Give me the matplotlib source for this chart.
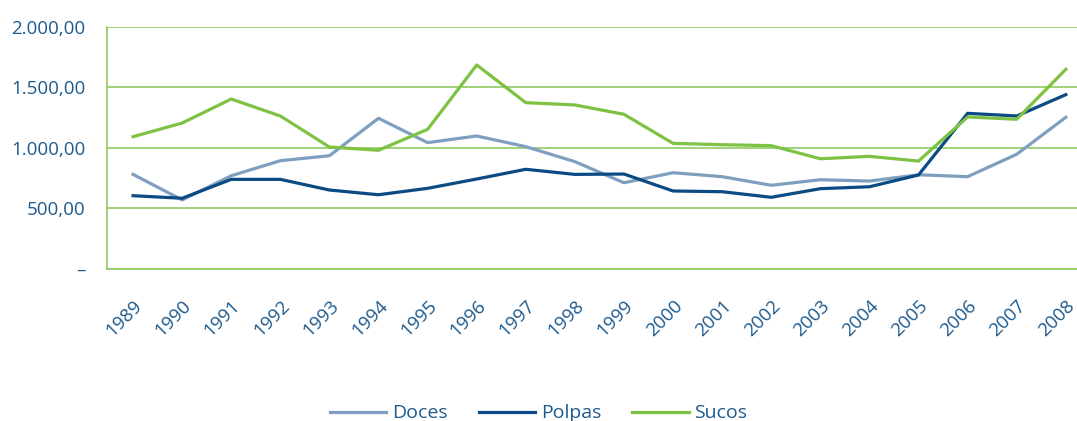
import matplotlib.pyplot as plt
from matplotlib.ticker import FixedLocator

plt.rcParams['font.family'] = ['Open Sans', 'DejaVu Sans']

anos = ['1989', '1990', '1991', '1992', '1993', '1994', '1995', '1996', '1997', '1998',
        '1999', '2000', '2001', '2002', '2003', '2004', '2005', '2006', '2007', '2008']
doces = [781, 570, 770, 894, 935, 1244, 1043, 1098, 1010, 886,
         712, 795, 762, 691, 737, 726, 778, 762, 947, 1252]
polpas = [605, 584, 740, 740, 652, 613, 666, 743, 823, 781,
          784, 644, 638, 592, 663, 679, 776, 1285, 1263, 1439]
sucos = [1092, 1205, 1403, 1263, 1007, 980, 1153, 1684, 1373, 1354,
         1277, 1037, 1026, 1018, 910, 930, 891, 1255, 1236, 1648]
yticks = [0, 500, 1000, 1500, 2000]
ylabels = ['–', '500,00', '1.000,00', '1.500,00', '2.000,00']

verde = '#7dc243'
grade = '#8fcb63'
texto = '#1d5a8e'

fig = plt.figure(figsize=(10.77, 4.21), dpi=100)
ax = fig.add_axes([0.0994, 0.361, 0.913, 0.5756])

x = range(len(anos))
ax.plot(x, doces, color='#7f9fc0', lw=2.3, label='Doces')
ax.plot(x, polpas, color='#0b4a83', lw=2.3, label='Polpas')
ax.plot(x, sucos, color=verde, lw=2.3, label='Sucos')

ax.set_xlim(-0.53, 19.5)
ax.set_ylim(0, 2000)
ax.yaxis.set_major_locator(FixedLocator(yticks))
ax.set_yticklabels(ylabels)
ax.set_xticks(list(x))
ax.set_xticklabels(anos, rotation=45, ha='right', va='top', rotation_mode='anchor')

ax.grid(axis='y', color=grade, lw=1.2)
ax.set_axisbelow(True)
for s in ['top', 'right']:
    ax.spines[s].set_visible(False)
for s in ['left', 'bottom']:
    ax.spines[s].set_color(grade)
    ax.spines[s].set_linewidth(1.2)

ax.tick_params(axis='both', length=0, labelsize=13.5, colors=texto)
ax.tick_params(axis='y', pad=15.5)
ax.tick_params(axis='x', pad=20)

leg = fig.legend(loc='lower center', ncol=3, frameon=False, fontsize=14,
                 bbox_to_anchor=(0.5, -0.045), handlelength=2.9, handletextpad=0.3,
                 columnspacing=1.6)
for t in leg.get_texts():
    t.set_color(texto)

plt.savefig('out.png', dpi=100)
